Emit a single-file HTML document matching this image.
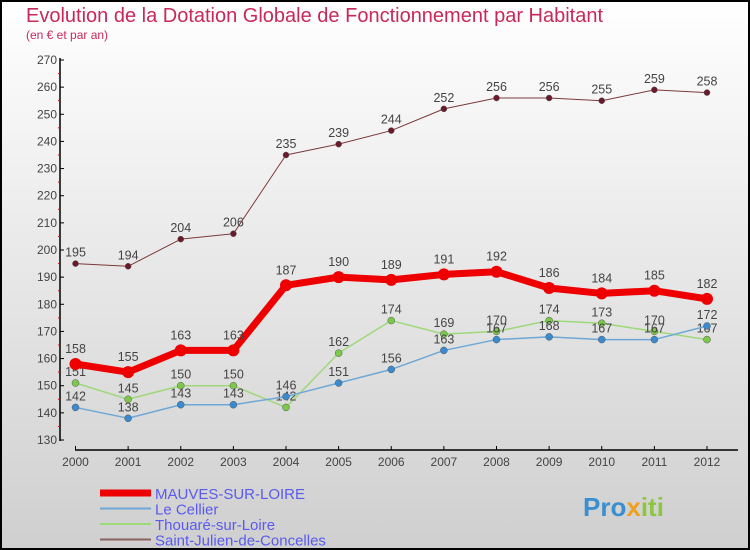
<!DOCTYPE html>
<html><head><meta charset="utf-8"><style>
body{margin:0}
#wrap{width:750px;height:550px;position:relative;overflow:hidden}
svg text{font-family:"Liberation Sans","DejaVu Sans",sans-serif}
</style></head><body>
<div id="wrap">
<svg id="svg" width="750" height="550" xmlns="http://www.w3.org/2000/svg">
<defs><linearGradient id="bg" x1="0" y1="0" x2="0" y2="1"><stop offset="0" stop-color="#ffffff"/><stop offset="1" stop-color="#cfcfcf"/></linearGradient></defs>
<rect x="1" y="1" width="748" height="548" fill="url(#bg)" stroke="#000" stroke-width="2"/>
<text x="26" y="22" font-size="20" fill="#c8285a">Evolution de la Dotation Globale de Fonctionnement par Habitant</text>
<text x="26" y="39" font-size="12" fill="#c8285a">(en € et par an)</text>
<g id="axes"></g><g id="series"></g><g id="legend"></g>
<text x="583" y="516" font-size="26" font-weight="bold" fill="#3a8fd0">Pro<tspan fill="#f0a020">x</tspan><tspan fill="#8cc63f">iti</tspan></text>
</svg></div>
<script>
const years=[2000,2001,2002,2003,2004,2005,2006,2007,2008,2009,2010,2011,2012];
const yTicks=[130,140,150,160,170,180,190,200,210,220,230,240,250,260,270];
const mauves=[158,155,163,163,187,190,189,191,192,186,184,185,182];
const cellier=[142,138,143,143,146,151,156,163,167,168,167,167,172];
const thouare=[151,145,150,150,142,162,174,169,170,174,173,170,167];
const stjulien=[195,194,204,206,235,239,244,252,256,256,255,259,258];
const NS="http://www.w3.org/2000/svg";
const X=i=>75.5+i*(707-75.5)/12;
const Y=v=>440-(v-130)*380/140;
function mk(t,a,p){const e=document.createElementNS(NS,t);for(const k in a)e.setAttribute(k,a[k]);(p||document.getElementById('series')).appendChild(e);return e;}
const ax=document.getElementById('axes');
let e=mk('line',{x1:60,y1:58,x2:60,y2:441,stroke:'#000','stroke-width':1.5},ax);

e=mk('line',{x1:75,y1:450,x2:738,y2:450,stroke:'#000','stroke-width':1.5},ax);

yTicks.forEach(v=>{mk('line',{x1:60,y1:Y(v),x2:64,y2:Y(v),stroke:'#000'},ax);
 if(v<270)mk('line',{x1:58,y1:Y(v+5),x2:60,y2:Y(v+5),stroke:'#e00'},ax);
 const t=mk('text',{x:57,y:Y(v)+4,'font-size':12,fill:'#444','text-anchor':'end'},ax);t.textContent=v;
 });
years.forEach((y,i)=>{mk('line',{x1:X(i),y1:446,x2:X(i),y2:450,stroke:'#000'},ax);
 const t=mk('text',{x:X(i),y:466,'font-size':12,fill:'#444','text-anchor':'middle'},ax);t.textContent=y;
 });
const series=[
 {n:'saint-julien',d:stjulien,c:'#7a3a3a',w:1,r:3,f:'#6a1a2a'},
 {n:'thouare',d:thouare,c:'#9ed87a',w:1.5,r:3.5,f:'#7cc84a'},
 {n:'le-cellier',d:cellier,c:'#6fa8d6',w:1.5,r:3.5,f:'#3a8ad0'},
 {n:'mauves',d:mauves,c:'#ee0000',w:7,r:6,f:'#ee0000'}];
series.forEach(s=>{
 const l=mk('polyline',{points:s.d.map((v,i)=>X(i)+','+Y(v)).join(' '),fill:'none',stroke:s.c,'stroke-width':s.w,'stroke-linejoin':'round'});
 
 s.d.forEach((v,i)=>{const c=mk('circle',{cx:X(i),cy:Y(v),r:s.r,fill:s.f,stroke:s.n=='mauves'?'none':'#555','stroke-width':0.5});
  
  const t=mk('text',{x:X(i),y:Y(v)-(s.n=='mauves'?11:7),'font-size':12.5,fill:'#444','text-anchor':'middle'});t.textContent=v;
  });
});
const lg=[['MAUVES-SUR-LOIRE','#ee0000',7],['Le Cellier','#6fa8d6',2],['Thouaré-sur-Loire','#9ed87a',2],['Saint-Julien-de-Concelles','#8a6060',2]];
const lgG=document.getElementById('legend');
lg.forEach((g,i)=>{const y=493+i*15.5;
 const l=mk('line',{x1:100,y1:y,x2:151,y2:y,stroke:g[1],'stroke-width':g[2]},lgG);
 
 const t=mk('text',{x:155,y:y+6,'font-size':15,fill:'#5a5af0'},lgG);t.textContent=g[0];
 });
</script></body></html>
